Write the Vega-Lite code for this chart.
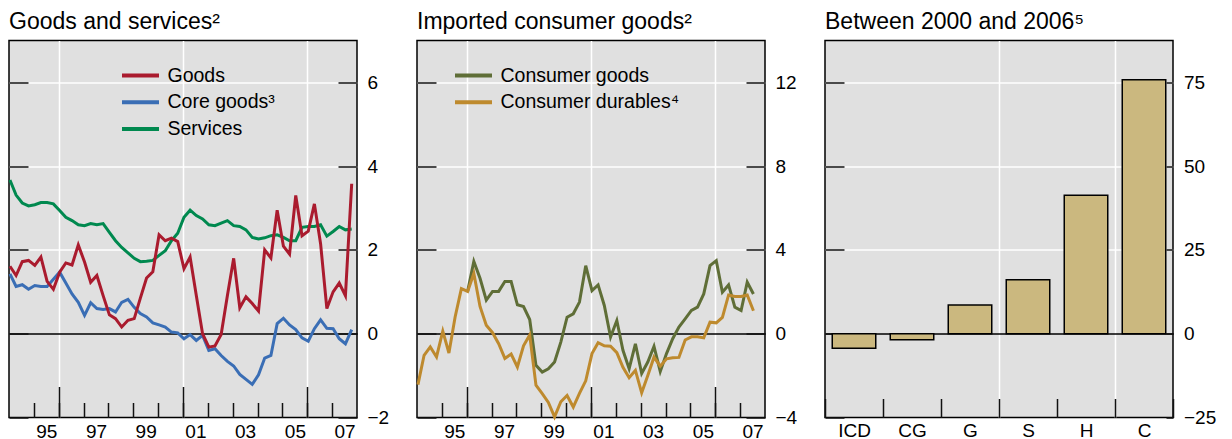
{
  "$schema": "https://vega.github.io/schema/vega-lite/v6.json",
  "padding": {"left": 3, "top": 9.5, "right": 5, "bottom": 0},
  "background": "white",
  "spacing": 60,
  "bounds": "flush",
  "config": {
    "font": "Liberation Sans",
    "view": {"fill": "#E0E0E0", "stroke": "#000000", "strokeWidth": 1.5},
    "title": {"anchor": "start", "frame": "group", "fontSize": 23, "fontWeight": "normal", "color": "#000000", "baseline": "alphabetic", "offset": 6.5, "font": "Liberation Sans"},
    "axis": {"domain": false, "labelColor": "#000000", "labelFontSize": 19, "labelFont": "Liberation Sans", "tickColor": "#111111", "tickWidth": 1.5, "gridColor": "#ffffff", "gridWidth": 1.5, "labelFlush": false, "labelOverlap": false, "labelBound": false},
    "legend": {"orient": "none", "title": null, "symbolType": "stroke", "symbolSize": 1369, "symbolStrokeWidth": 4, "labelFontSize": 19.5, "labelFont": "Liberation Sans", "labelColor": "#000000", "labelOffset": 6.5, "clipHeight": 20, "rowPadding": 6.8, "padding": 0, "labelLimit": 400}
  },
  "resolve": {"scale": {"color": "independent"}, "legend": {"color": "independent"}},
  "datasets": {
    "p1": [
      {"d": "1994/01/15", "Goods": 1.61, "Core goods³": 1.43, "Services": 3.67},
      {"d": "1994/04/15", "Goods": 1.39, "Core goods³": 1.13, "Services": 3.31},
      {"d": "1994/07/15", "Goods": 1.72, "Core goods³": 1.17, "Services": 3.12},
      {"d": "1994/10/15", "Goods": 1.75, "Core goods³": 1.06, "Services": 3.05},
      {"d": "1995/01/15", "Goods": 1.63, "Core goods³": 1.15, "Services": 3.08},
      {"d": "1995/04/15", "Goods": 1.83, "Core goods³": 1.13, "Services": 3.13},
      {"d": "1995/07/15", "Goods": 1.25, "Core goods³": 1.13, "Services": 3.13},
      {"d": "1995/10/15", "Goods": 1.06, "Core goods³": 1.30, "Services": 3.10},
      {"d": "1996/01/15", "Goods": 1.47, "Core goods³": 1.47, "Services": 2.94},
      {"d": "1996/04/15", "Goods": 1.69, "Core goods³": 1.21, "Services": 2.78},
      {"d": "1996/07/15", "Goods": 1.64, "Core goods³": 0.95, "Services": 2.70},
      {"d": "1996/10/15", "Goods": 2.12, "Core goods³": 0.75, "Services": 2.60},
      {"d": "1997/01/15", "Goods": 1.71, "Core goods³": 0.44, "Services": 2.58},
      {"d": "1997/04/15", "Goods": 1.23, "Core goods³": 0.74, "Services": 2.63},
      {"d": "1997/07/15", "Goods": 1.39, "Core goods³": 0.60, "Services": 2.60},
      {"d": "1997/10/15", "Goods": 0.91, "Core goods³": 0.58, "Services": 2.63},
      {"d": "1998/01/15", "Goods": 0.45, "Core goods³": 0.60, "Services": 2.42},
      {"d": "1998/04/15", "Goods": 0.36, "Core goods³": 0.52, "Services": 2.22},
      {"d": "1998/07/15", "Goods": 0.16, "Core goods³": 0.75, "Services": 2.06},
      {"d": "1998/10/15", "Goods": 0.32, "Core goods³": 0.82, "Services": 1.93},
      {"d": "1999/01/15", "Goods": 0.36, "Core goods³": 0.63, "Services": 1.80},
      {"d": "1999/04/15", "Goods": 0.85, "Core goods³": 0.48, "Services": 1.72},
      {"d": "1999/07/15", "Goods": 1.33, "Core goods³": 0.40, "Services": 1.73},
      {"d": "1999/10/15", "Goods": 1.48, "Core goods³": 0.26, "Services": 1.75},
      {"d": "2000/01/15", "Goods": 2.36, "Core goods³": 0.21, "Services": 1.87},
      {"d": "2000/04/15", "Goods": 2.22, "Core goods³": 0.16, "Services": 1.98},
      {"d": "2000/07/15", "Goods": 2.28, "Core goods³": 0.04, "Services": 2.22},
      {"d": "2000/10/15", "Goods": 2.20, "Core goods³": 0.02, "Services": 2.40},
      {"d": "2001/01/15", "Goods": 1.55, "Core goods³": -0.12, "Services": 2.78},
      {"d": "2001/04/15", "Goods": 1.83, "Core goods³": -0.02, "Services": 2.95},
      {"d": "2001/07/15", "Goods": 0.91, "Core goods³": -0.16, "Services": 2.82},
      {"d": "2001/10/15", "Goods": 0.00, "Core goods³": -0.04, "Services": 2.74},
      {"d": "2002/01/15", "Goods": -0.32, "Core goods³": -0.40, "Services": 2.60},
      {"d": "2002/04/15", "Goods": -0.29, "Core goods³": -0.36, "Services": 2.58},
      {"d": "2002/07/15", "Goods": -0.02, "Core goods³": -0.52, "Services": 2.64},
      {"d": "2002/10/15", "Goods": 0.91, "Core goods³": -0.66, "Services": 2.70},
      {"d": "2003/01/15", "Goods": 1.80, "Core goods³": -0.77, "Services": 2.58},
      {"d": "2003/04/15", "Goods": 0.62, "Core goods³": -0.97, "Services": 2.56},
      {"d": "2003/07/15", "Goods": 0.88, "Core goods³": -1.09, "Services": 2.48},
      {"d": "2003/10/15", "Goods": 0.72, "Core goods³": -1.21, "Services": 2.30},
      {"d": "2004/01/15", "Goods": 0.54, "Core goods³": -0.98, "Services": 2.26},
      {"d": "2004/04/15", "Goods": 2.00, "Core goods³": -0.58, "Services": 2.29},
      {"d": "2004/07/15", "Goods": 1.81, "Core goods³": -0.52, "Services": 2.34},
      {"d": "2004/10/15", "Goods": 2.95, "Core goods³": 0.24, "Services": 2.36},
      {"d": "2005/01/15", "Goods": 2.09, "Core goods³": 0.37, "Services": 2.30},
      {"d": "2005/04/15", "Goods": 1.90, "Core goods³": 0.21, "Services": 2.22},
      {"d": "2005/07/15", "Goods": 3.30, "Core goods³": 0.10, "Services": 2.22},
      {"d": "2005/10/15", "Goods": 2.34, "Core goods³": -0.10, "Services": 2.54},
      {"d": "2006/01/15", "Goods": 2.45, "Core goods³": -0.18, "Services": 2.56},
      {"d": "2006/04/15", "Goods": 3.10, "Core goods³": 0.12, "Services": 2.56},
      {"d": "2006/07/15", "Goods": 2.15, "Core goods³": 0.33, "Services": 2.60},
      {"d": "2006/10/15", "Goods": 0.60, "Core goods³": 0.13, "Services": 2.33},
      {"d": "2007/01/15", "Goods": 1.00, "Core goods³": 0.12, "Services": 2.44},
      {"d": "2007/04/15", "Goods": 1.21, "Core goods³": -0.12, "Services": 2.56},
      {"d": "2007/07/15", "Goods": 0.91, "Core goods³": -0.24, "Services": 2.48},
      {"d": "2007/10/15", "Goods": 3.58, "Core goods³": 0.10, "Services": 2.50}
    ],
    "p2": [
      {"d": "1994/01/15", "Consumer goods": null, "Consumer durables⁴": -2.43},
      {"d": "1994/04/15", "Consumer goods": null, "Consumer durables⁴": -1.03},
      {"d": "1994/07/15", "Consumer goods": null, "Consumer durables⁴": -0.63},
      {"d": "1994/10/15", "Consumer goods": null, "Consumer durables⁴": -1.11},
      {"d": "1995/01/15", "Consumer goods": null, "Consumer durables⁴": 0.12},
      {"d": "1995/04/15", "Consumer goods": null, "Consumer durables⁴": -0.92},
      {"d": "1995/07/15", "Consumer goods": null, "Consumer durables⁴": 0.80},
      {"d": "1995/10/15", "Consumer goods": null, "Consumer durables⁴": 2.15},
      {"d": "1996/01/15", "Consumer goods": 2.02, "Consumer durables⁴": 2.02},
      {"d": "1996/04/15", "Consumer goods": 3.45, "Consumer durables⁴": 2.88},
      {"d": "1996/07/15", "Consumer goods": 2.65, "Consumer durables⁴": 1.30},
      {"d": "1996/10/15", "Consumer goods": 1.60, "Consumer durables⁴": 0.40},
      {"d": "1997/01/15", "Consumer goods": 2.02, "Consumer durables⁴": 0.05},
      {"d": "1997/04/15", "Consumer goods": 2.02, "Consumer durables⁴": -0.48},
      {"d": "1997/07/15", "Consumer goods": 2.49, "Consumer durables⁴": -1.18},
      {"d": "1997/10/15", "Consumer goods": 2.49, "Consumer durables⁴": -0.97},
      {"d": "1998/01/15", "Consumer goods": 1.38, "Consumer durables⁴": -1.59},
      {"d": "1998/04/15", "Consumer goods": 1.30, "Consumer durables⁴": -0.58},
      {"d": "1998/07/15", "Consumer goods": 0.68, "Consumer durables⁴": -0.06},
      {"d": "1998/10/15", "Consumer goods": -1.51, "Consumer durables⁴": -2.46},
      {"d": "1999/01/15", "Consumer goods": -1.83, "Consumer durables⁴": -2.86},
      {"d": "1999/04/15", "Consumer goods": -1.67, "Consumer durables⁴": -3.28},
      {"d": "1999/07/15", "Consumer goods": -1.35, "Consumer durables⁴": -3.97},
      {"d": "1999/10/15", "Consumer goods": -0.40, "Consumer durables⁴": -3.25},
      {"d": "2000/01/15", "Consumer goods": 0.79, "Consumer durables⁴": -2.95},
      {"d": "2000/04/15", "Consumer goods": 0.95, "Consumer durables⁴": -3.50},
      {"d": "2000/07/15", "Consumer goods": 1.51, "Consumer durables⁴": -2.85},
      {"d": "2000/10/15", "Consumer goods": 3.25, "Consumer durables⁴": -2.25},
      {"d": "2001/01/15", "Consumer goods": 2.06, "Consumer durables⁴": -0.95},
      {"d": "2001/04/15", "Consumer goods": 2.33, "Consumer durables⁴": -0.43},
      {"d": "2001/07/15", "Consumer goods": 1.35, "Consumer durables⁴": -0.58},
      {"d": "2001/10/15", "Consumer goods": -0.16, "Consumer durables⁴": -0.60},
      {"d": "2002/01/15", "Consumer goods": 0.63, "Consumer durables⁴": -0.90},
      {"d": "2002/04/15", "Consumer goods": -0.79, "Consumer durables⁴": -1.60},
      {"d": "2002/07/15", "Consumer goods": -1.67, "Consumer durables⁴": -2.10},
      {"d": "2002/10/15", "Consumer goods": -0.48, "Consumer durables⁴": -1.75},
      {"d": "2003/01/15", "Consumer goods": -1.90, "Consumer durables⁴": -2.82},
      {"d": "2003/04/15", "Consumer goods": -1.35, "Consumer durables⁴": -2.00},
      {"d": "2003/07/15", "Consumer goods": -0.60, "Consumer durables⁴": -1.12},
      {"d": "2003/10/15", "Consumer goods": -1.80, "Consumer durables⁴": -1.55},
      {"d": "2004/01/15", "Consumer goods": -0.95, "Consumer durables⁴": -1.20},
      {"d": "2004/04/15", "Consumer goods": -0.24, "Consumer durables⁴": -1.15},
      {"d": "2004/07/15", "Consumer goods": 0.32, "Consumer durables⁴": -1.13},
      {"d": "2004/10/15", "Consumer goods": 0.71, "Consumer durables⁴": -0.30},
      {"d": "2005/01/15", "Consumer goods": 1.11, "Consumer durables⁴": -0.15},
      {"d": "2005/04/15", "Consumer goods": 1.27, "Consumer durables⁴": -0.15},
      {"d": "2005/07/15", "Consumer goods": 1.90, "Consumer durables⁴": -0.20},
      {"d": "2005/10/15", "Consumer goods": 3.25, "Consumer durables⁴": 0.55},
      {"d": "2006/01/15", "Consumer goods": 3.49, "Consumer durables⁴": 0.52},
      {"d": "2006/04/15", "Consumer goods": 1.98, "Consumer durables⁴": 0.78},
      {"d": "2006/07/15", "Consumer goods": 2.33, "Consumer durables⁴": 1.85},
      {"d": "2006/10/15", "Consumer goods": 1.27, "Consumer durables⁴": 1.78},
      {"d": "2007/01/15", "Consumer goods": 1.11, "Consumer durables⁴": 1.78},
      {"d": "2007/04/15", "Consumer goods": 2.46, "Consumer durables⁴": 1.85},
      {"d": "2007/07/15", "Consumer goods": 1.90, "Consumer durables⁴": 1.10}
    ],
    "p3": [
      {"cat": "ICD", "value": -4.3},
      {"cat": "CG", "value": -1.8},
      {"cat": "G", "value": 8.6},
      {"cat": "S", "value": 16.1},
      {"cat": "H", "value": 41.3},
      {"cat": "C", "value": 75.8}
    ]
  },
  "hconcat": [
    {
      "width": 348, "height": 377,
      "title": {"text": "Goods and services²"},
      "data": {"name": "p1"},
      "transform": [{"fold": ["Services", "Core goods³", "Goods"], "as": ["s1", "v1"]}],
      "encoding": {
        "color": {"field": "s1", "type": "nominal", "scale": {"domain": ["Goods", "Core goods³", "Services"], "range": ["#AA1B2E", "#3A6EB5", "#00894F"]}, "legend": {"legendX": 111, "legendY": 25}}
      },
      "layer": [
        {
          "transform": [{"filter": {"field": "s1", "equal": "Services"}}],
          "mark": {"type": "line", "strokeWidth": 3},
          "encoding": {
            "x": {"field": "d", "type": "temporal", "scale": {"domain": [{"year": 1994, "month": 1, "date": 1}, {"year": 2008, "month": 1, "date": 1}]},
              "axis": {"orient": "bottom", "title": null, "values": [{"year": 1995}, {"year": 1996}, {"year": 1997}, {"year": 1998}, {"year": 1999}, {"year": 2000}, {"year": 2001}, {"year": 2002}, {"year": 2003}, {"year": 2004}, {"year": 2005}, {"year": 2006}, {"year": 2007}], "tickSize": -15, "labelExpr": "year(datum.value) % 2 == 1 ? timeFormat(datum.value, '%y') : ''", "labelOffset": 12.4, "labelPadding": 20, "grid": false}},
            "y": {"field": "v1", "type": "quantitative", "scale": {"domain": [-2, 7], "nice": false, "zero": false},
              "axis": {"orient": "left", "title": null, "values": [-2, 0, 2, 4, 6], "tickSize": -19, "labels": false, "grid": true, "gridColor": {"condition": {"test": "datum.value == 0", "value": "#000000"}, "value": "#ffffff"}, "gridOpacity": {"condition": {"test": "datum.value == -2", "value": 0}, "value": 1}}}
          }
        },
        {
          "transform": [{"filter": {"field": "s1", "equal": "Core goods³"}}],
          "mark": {"type": "line", "strokeWidth": 3},
          "encoding": {
            "x": {"field": "d", "type": "temporal", "axis": null},
            "y": {"field": "v1", "type": "quantitative", "axis": null}
          }
        },
        {
          "transform": [{"filter": {"field": "s1", "equal": "Goods"}}],
          "mark": {"type": "line", "strokeWidth": 3},
          "encoding": {
            "x": {"field": "d", "type": "temporal",
              "axis": {"orient": "bottom", "title": null, "values": [{"year": 1996}, {"year": 2001}, {"year": 2006}], "tickSize": -31, "labels": false, "grid": true}},
            "y": {"field": "v1", "type": "quantitative",
              "axis": {"orient": "right", "title": null, "values": [-2, 0, 2, 4, 6], "tickSize": -19, "labelPadding": 29, "grid": false, "labelAlign": "left", "labelBaseline": "middle"}}
          }
        }
      ],
      "resolve": {"axis": {"x": "independent", "y": "independent"}}
    },
    {
      "width": 348, "height": 377,
      "title": {"text": "Imported consumer goods²"},
      "data": {"name": "p2"},
      "transform": [{"fold": ["Consumer goods", "Consumer durables⁴"], "as": ["s2", "v2"]}],
      "encoding": {
        "color": {"field": "s2", "type": "nominal", "scale": {"domain": ["Consumer goods", "Consumer durables⁴"], "range": ["#5F6E37", "#BE8A2E"]}, "legend": {"legendX": 36, "legendY": 25}}
      },
      "layer": [
        {
          "transform": [{"filter": {"field": "s2", "equal": "Consumer goods"}}],
          "mark": {"type": "line", "strokeWidth": 3},
          "encoding": {
            "x": {"field": "d", "type": "temporal", "scale": {"domain": [{"year": 1994, "month": 1, "date": 1}, {"year": 2008, "month": 1, "date": 1}]},
              "axis": {"orient": "bottom", "title": null, "values": [{"year": 1995}, {"year": 1996}, {"year": 1997}, {"year": 1998}, {"year": 1999}, {"year": 2000}, {"year": 2001}, {"year": 2002}, {"year": 2003}, {"year": 2004}, {"year": 2005}, {"year": 2006}, {"year": 2007}], "tickSize": -15, "labelExpr": "year(datum.value) % 2 == 1 ? timeFormat(datum.value, '%y') : ''", "labelOffset": 12.4, "labelPadding": 20, "grid": false}},
            "y": {"field": "v2", "type": "quantitative", "scale": {"domain": [-4, 14], "nice": false, "zero": false},
              "axis": {"orient": "left", "title": null, "values": [-4, 0, 4, 8, 12], "tickSize": -19, "labels": false, "grid": true, "gridColor": {"condition": {"test": "datum.value == 0", "value": "#000000"}, "value": "#ffffff"}, "gridOpacity": {"condition": {"test": "datum.value == -4", "value": 0}, "value": 1}}}
          }
        },
        {
          "transform": [{"filter": {"field": "s2", "equal": "Consumer durables⁴"}}],
          "mark": {"type": "line", "strokeWidth": 3},
          "encoding": {
            "x": {"field": "d", "type": "temporal",
              "axis": {"orient": "bottom", "title": null, "values": [{"year": 1996}, {"year": 2001}, {"year": 2006}], "tickSize": -31, "labels": false, "grid": true}},
            "y": {"field": "v2", "type": "quantitative",
              "axis": {"orient": "right", "title": null, "values": [-4, 0, 4, 8, 12], "tickSize": -19, "labelPadding": 29, "grid": false, "labelAlign": "left", "labelBaseline": "middle"}}
          }
        }
      ],
      "resolve": {"axis": {"x": "independent", "y": "independent"}}
    },
    {
      "width": 348, "height": 377,
      "title": {"text": "Between 2000 and 2006⁵"},
      "data": {"name": "p3"},
      "encoding": {
        "x": {"field": "cat", "type": "nominal", "sort": null, "scale": {"paddingInner": 0, "paddingOuter": 0},
          "axis": {"orient": "bottom", "title": null, "labelAngle": 0, "tickBand": "extent", "tickSize": -19, "labelPadding": 23, "grid": true, "gridOpacity": {"condition": {"test": "datum.value == 'G' || datum.value == 'H'", "value": 1}, "value": 0}}}
      },
      "layer": [
        {
          "mark": {"type": "bar", "fill": "#CBB87F", "stroke": "#000000", "strokeWidth": 1.5, "width": {"band": 0.75}},
          "encoding": {
            "y": {"field": "value", "type": "quantitative", "scale": {"domain": [-25, 87.5], "nice": false, "zero": false},
              "axis": {"orient": "left", "title": null, "values": [-25, 0, 25, 50, 75], "tickSize": -19, "labels": false, "grid": true, "gridColor": {"condition": {"test": "datum.value == 0", "value": "#000000"}, "value": "#ffffff"}, "gridOpacity": {"condition": {"test": "datum.value == -25", "value": 0}, "value": 1}}}
          }
        },
        {
          "mark": {"type": "bar", "opacity": 0, "width": {"band": 0.75}},
          "encoding": {
            "y": {"field": "value", "type": "quantitative",
              "axis": {"orient": "right", "title": null, "values": [-25, 0, 25, 50, 75], "tickSize": -7, "labelPadding": 17.5, "grid": false, "labelAlign": "left", "labelBaseline": "middle"}}
          }
        }
      ],
      "resolve": {"axis": {"y": "independent"}}
    }
  ]
}
